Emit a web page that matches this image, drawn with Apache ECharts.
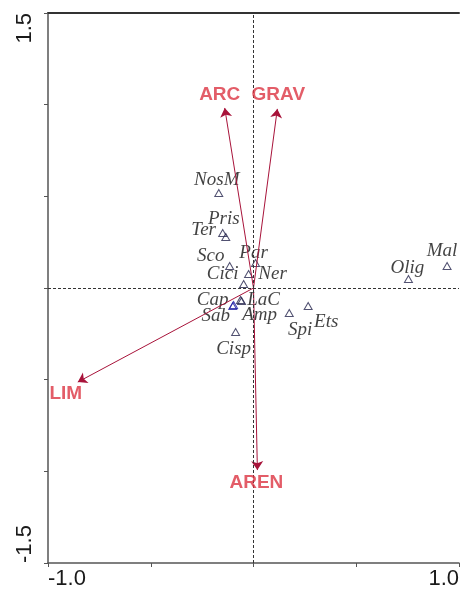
<!DOCTYPE html>
<html>
<head>
<meta charset="utf-8">
<script src="https://cdn.jsdelivr.net/npm/echarts@6/dist/echarts.min.js"></script>
<style>
html,body{margin:0;padding:0;background:#fff;}
#chart{width:462px;height:591px;}
</style>
</head>
<body>
<div id="chart"></div>
<script>
// ---- data ----
const speciesNames = ['NosM','Ter','Pris','Sco','Par','Ner','Cici','Cap','Sab','LaC','Amp','Spi','Ets','Cisp','Olig','Mal'];
const speciesX = [-0.169,-0.150,-0.135,-0.116,0.010,-0.024,-0.048,-0.097,-0.101,-0.063,-0.058,0.174,0.266,-0.087,0.754,0.942];
const speciesY = [0.518,0.300,0.278,0.120,0.136,0.076,0.022,-0.093,-0.098,-0.065,-0.071,-0.136,-0.098,-0.240,0.049,0.120];

const envNames = ['ARC','GRAV','LIM','AREN'];
const envX = [-0.140,0.116,-0.855,0.019];
const envY = [0.982,0.977,-0.513,-0.993];

const xTickLabels = ['-1.0','1.0'];
const yTickLabels = ['-1.5','1.5'];

// ---- layout / style (label offsets in pixels) ----
const speciesLabelOffset = {
  NosM:[-2,-13], Ter:[-19,-3], Pris:[-2,-18], Sco:[-19,-10], Par:[-2,-10],
  Ner:[24,0], Cici:[-21,-10], Cap:[-21,-5], Sab:[-17,10], LaC:[23,0],
  Amp:[18,14], Spi:[11,17], Ets:[18,16], Cisp:[-2,17], Olig:[-1,-11], Mal:[-5,-15]
};
const blueSpecies = {Cap:true, Sab:true};
const envLabelOffset = { ARC:[-5,-13], GRAV:[1,-14], LIM:[-12,12], AREN:[-1,13] };

const speciesData = speciesNames.map((n,i)=>({
  name:n,
  value:[speciesX[i],speciesY[i]],
  itemStyle:{borderColor: blueSpecies[n] ? '#1a1aa0' : '#26264e'},
  label:{offset:speciesLabelOffset[n]}
}));
const envLines = envNames.map((n,i)=>({coords:[[0,0],[envX[i],envY[i]]]}));
const envTips = envNames.map((n,i)=>({name:n,value:[envX[i],envY[i]],label:{offset:envLabelOffset[n]}}));

const chart = echarts.init(document.getElementById('chart'), null, {renderer:'canvas'});
chart.setOption({
  animation:false,
  backgroundColor:'#fff',
  grid:{left:48,right:0,top:13,bottom:28,containLabel:false},
  xAxis:[{
    type:'value',min:-1,max:1,interval:0.5,position:'bottom',
    axisLine:{show:true,onZero:false,lineStyle:{color:'#555',width:1.5}},
    axisTick:{show:true,length:4,lineStyle:{color:'#555'}},
    splitLine:{show:false},
    axisLabel:{
      show:true,margin:5,fontSize:22,color:'#1a1a1a',fontFamily:'Liberation Sans, Arial, sans-serif',
      alignMinLabel:'left',alignMaxLabel:'right',
      formatter:v=> (v===-1?xTickLabels[0]:(v===1?xTickLabels[1]:''))
    }
  },{
    type:'value',min:-1,max:1,position:'top',
    axisLine:{show:true,onZero:false,lineStyle:{color:'#333',width:2}},
    axisTick:{show:false},axisLabel:{show:false},splitLine:{show:false}
  }],
  yAxis:{
    type:'value',min:-1.5,max:1.5,interval:0.5,position:'left',
    axisLine:{show:true,onZero:false,lineStyle:{color:'#555',width:1.5}},
    axisTick:{show:true,length:4,lineStyle:{color:'#555'}},
    splitLine:{show:false},
    axisLabel:{
      show:true,rotate:90,margin:12,fontSize:22,color:'#1a1a1a',fontFamily:'Liberation Sans, Arial, sans-serif',
      alignMinLabel:'left',alignMaxLabel:'right',
      formatter:v=> (v===-1.5?yTickLabels[0]:(v===1.5?yTickLabels[1]:''))
    }
  },
  series:[{
    type:'scatter',
    symbol:'triangle',symbolSize:[8,7],
    itemStyle:{color:'rgba(255,255,255,0)',borderWidth:1},
    label:{show:true,position:'inside',formatter:'{b}',color:'#111',
      fontFamily:'Liberation Serif, Times New Roman, serif',fontStyle:'italic',fontSize:19},
    data:speciesData,
    z:3,
    markLine:{
      silent:true,symbol:['none','none'],label:{show:false},
      lineStyle:{color:'#333',type:[3,2],width:1},
      data:[{xAxis:0},{yAxis:0}]
    }
  },{
    type:'lines',coordinateSystem:'cartesian2d',
    symbol:['none','arrow'],symbolSize:9,
    lineStyle:{color:'#a8133a',width:1,opacity:1},
    data:envLines,z:4
  },{
    type:'scatter',symbol:'circle',symbolSize:0,
    label:{show:true,position:'inside',formatter:'{b}',color:'#dc3442',
      fontFamily:'Liberation Sans, Arial, sans-serif',fontWeight:'bold',fontSize:19},
    data:envTips,z:5
  }]
});
</script>
</body>
</html>
